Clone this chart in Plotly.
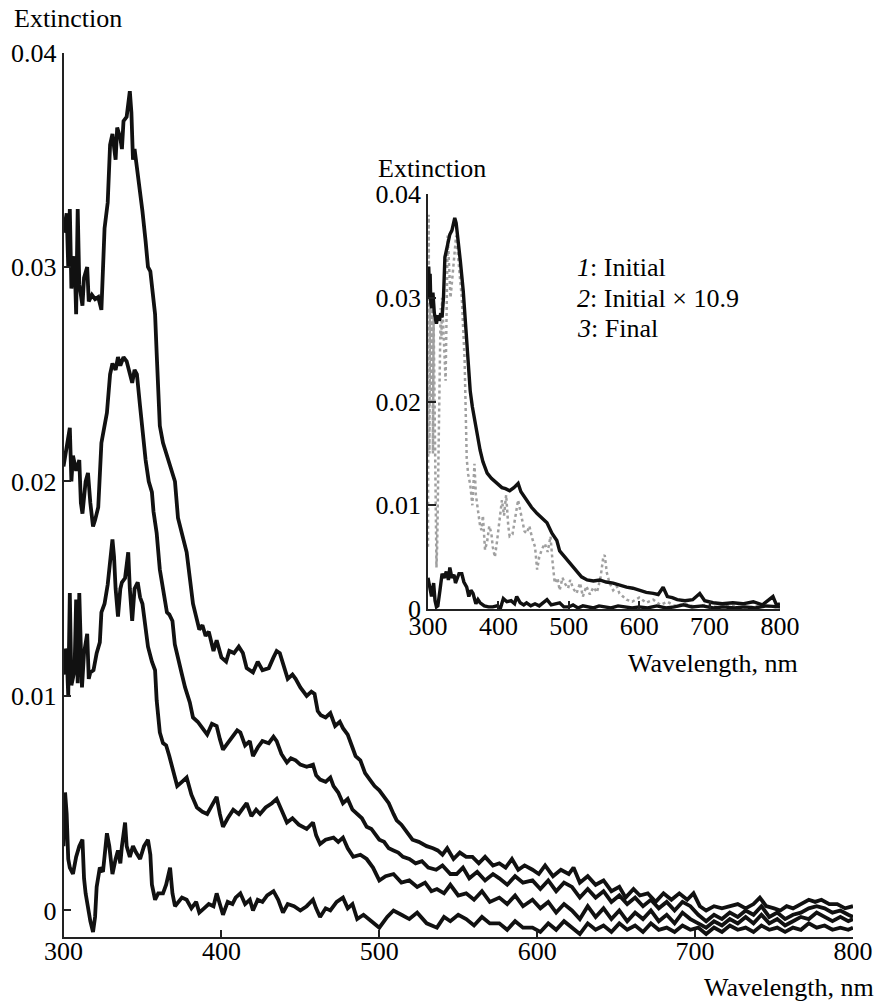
import plotly.graph_objects as go

# ---------------- main plot data ----------------
wl_a = [300,302,303,304,305,307,308,309,310,312,313,315,316,318,320,322,324,325,326,328,329.5,331,333,334,336,337,338,340,341,342,343,344,345,347,349,350,352,353.5,355,357,358,359,360,361,363,365.5,368,370.6,372.5,375,378,380,382,384,386,388,390,392,395,397,400,403,405,408,411,413.6,416,420,423,426,430,433,435,437,440,442,445,447,450,454,457,459,461,463,466,469,472,475,477,480,483,485,488,491,494,497,500,503,506,509,511,514,517,521,525,530,534,537,540,543,547,551,555,559,563,567,572,576,580,584,588,592,597,601,605,610,615,620,623,627,632,637,642,647,652,656,661,665,670,675,680,685,690,695,699,703,707,712,717,722,727,732,737,741,745,750,754,758,762,767,772,776,780,785,790,795,800]
ext_a = [0.0316,0.0325,0.0300,0.0327,0.0290,0.0305,0.0278,0.0327,0.0292,0.0282,0.0295,0.0300,0.0284,0.0287,0.0285,0.0286,0.0280,0.0295,0.0318,0.0330,0.0357,0.0362,0.0350,0.0365,0.0360,0.0355,0.0368,0.0370,0.0375,0.0382,0.0372,0.0350,0.0355,0.0344,0.0330,0.0326,0.0312,0.0300,0.0298,0.0282,0.0278,0.0260,0.0240,0.0226,0.0218,0.0212,0.0205,0.0200,0.0183,0.0175,0.0167,0.0155,0.0143,0.0137,0.0131,0.0133,0.0128,0.0130,0.0121,0.0126,0.0118,0.0116,0.0121,0.0120,0.0123,0.0120,0.0113,0.0111,0.0116,0.0112,0.0113,0.0118,0.0121,0.0120,0.0112,0.0108,0.0110,0.0108,0.0104,0.0100,0.0102,0.0101,0.0093,0.0091,0.0090,0.0092,0.0086,0.0088,0.0085,0.0082,0.0076,0.0072,0.0070,0.0064,0.0061,0.0058,0.0056,0.0053,0.0050,0.0045,0.0042,0.0040,0.0037,0.0033,0.0032,0.0030,0.0029,0.0028,0.0026,0.0029,0.0024,0.0027,0.0025,0.0025,0.0022,0.0025,0.0021,0.0022,0.0020,0.0024,0.0019,0.0021,0.0019,0.0017,0.0021,0.0016,0.0019,0.0017,0.0020,0.0013,0.0016,0.0012,0.0014,0.0009,0.0011,0.0006,0.0010,0.0007,0.0008,0.0004,0.0008,0.0005,0.0008,0.0005,0.0008,0.0002,0.0000,0.0002,0.0001,0.0002,0.0003,0.0001,0.0003,0.0006,0.0002,0.0001,0.0000,0.0002,0.0001,0.0003,0.0005,0.0004,0.0005,0.0003,0.0003,0.0001,0.0002]

wl_b = [300,302,304,305,306,308,310,311,312,314,315.5,317,318.7,320,322,324,326,327.5,329.5,331,333,334.5,336,338,340,342,343.5,345,346.5,348.5,350,352,354,356,357,359,361,363,365.5,367,369,370.5,372.5,375,377,380,382,385,388,391,394,397,399,401,404,407,410,412,415,418,420,423,426,430,433,435,438,441.5,444,447,450,454,458,460,462.5,466,469,471,474,477,480,483,486,489,492,495,498,500,503,506,509,512,515,519,523,527,531,536,540,545,549,553,557,562,567,572,576,581,586,591,597,602,607,612,617,622,627,632,637,642,647,652,657,662,667,672,677,682,687,692,697,702,707,712,717,722,727,732,737,742,747,752,757,762,767,772,777,782,787,792,797,800]
ext_b = [0.0207,0.0215,0.0225,0.0200,0.0212,0.0205,0.0210,0.0190,0.0185,0.0200,0.0204,0.0190,0.0179,0.0182,0.0188,0.0218,0.0226,0.0232,0.0250,0.0255,0.0252,0.0258,0.0254,0.0258,0.0256,0.0250,0.0246,0.0252,0.0250,0.0235,0.0224,0.0210,0.0200,0.0195,0.0186,0.0176,0.0159,0.0150,0.0139,0.0138,0.0135,0.0124,0.0117,0.0110,0.0104,0.0097,0.0090,0.0088,0.0085,0.0082,0.0087,0.0086,0.0080,0.0075,0.0078,0.0081,0.0084,0.0083,0.0077,0.0079,0.0072,0.0076,0.0079,0.0078,0.0081,0.0079,0.0073,0.0069,0.0071,0.0070,0.0068,0.0067,0.0068,0.0063,0.0061,0.0060,0.0062,0.0058,0.0055,0.0050,0.0052,0.0047,0.0045,0.0043,0.0039,0.0038,0.0035,0.0033,0.0032,0.0029,0.0028,0.0027,0.0025,0.0024,0.0022,0.0023,0.0020,0.0019,0.0021,0.0017,0.0017,0.0020,0.0015,0.0018,0.0014,0.0017,0.0015,0.0012,0.0016,0.0013,0.0014,0.0010,0.0014,0.0009,0.0013,0.0011,0.0006,0.0010,0.0006,0.0009,0.0004,0.0007,0.0003,0.0006,0.0002,0.0005,0.0001,0.0004,0.0000,0.0004,0.0002,-0.0002,-0.0005,-0.0002,-0.0004,-0.0001,-0.0003,0.0000,-0.0002,0.0002,-0.0003,-0.0001,-0.0004,-0.0002,-0.0001,0.0001,0.0002,0.0001,-0.0001,0.0000,-0.0002,-0.0003]

wl_c = [300,301,302,303,304,305,307,308,309,310,311.7,313,315,316,317,319,321,323,324,326,328,329.5,331,332,333,334.5,336,337,339,341,342,343.5,345,347,348.5,350,352,353.5,356,358,359,360,361,363,365,367,369,372,375,378,381,384.5,388,391,394,397,399,401,404,407.5,411,414,416,419,422,424.5,428,432,435,438,441.5,445,449,454,458,460,462.5,466,471,474,477,480,483.5,488,492,496,500,504,509,514,519,524,529,533,536.5,541,545,550,555,560,565,570,576,581,586,591,597,602,607,612,617,622,627,632,637,642,647,652,657,662,667,672,677,682,687,692,697,702,707,712,717,722,727,732,737,742,747,752,757,762,767,772,777,782,787,792,797,800]
ext_c = [0.0110,0.0122,0.0120,0.0100,0.0148,0.0105,0.0112,0.0145,0.0106,0.0148,0.0104,0.0120,0.0129,0.0108,0.0111,0.0112,0.0120,0.0125,0.0139,0.0143,0.0152,0.0163,0.0173,0.0165,0.0150,0.0137,0.0150,0.0153,0.0155,0.0167,0.0150,0.0135,0.0150,0.0153,0.0146,0.0143,0.0130,0.0123,0.0116,0.0112,0.0098,0.0089,0.0083,0.0078,0.0077,0.0072,0.0067,0.0058,0.0060,0.0062,0.0054,0.0048,0.0046,0.0045,0.0049,0.0053,0.0045,0.0039,0.0043,0.0047,0.0045,0.0048,0.0050,0.0044,0.0047,0.0045,0.0048,0.0050,0.0052,0.0047,0.0041,0.0043,0.0040,0.0038,0.0041,0.0035,0.0031,0.0033,0.0034,0.0032,0.0034,0.0029,0.0025,0.0026,0.0024,0.0020,0.0014,0.0016,0.0017,0.0013,0.0014,0.0011,0.0013,0.0009,0.0010,0.0008,0.0012,0.0007,0.0008,0.0005,0.0009,0.0004,0.0006,0.0003,0.0007,0.0002,0.0005,0.0001,0.0004,-0.0001,0.0003,0.0000,-0.0004,0.0002,-0.0003,0.0001,-0.0004,0.0000,-0.0005,-0.0001,-0.0004,0.0000,-0.0005,-0.0002,-0.0006,-0.0001,-0.0004,-0.0006,-0.0008,-0.0005,-0.0007,-0.0004,-0.0006,-0.0003,-0.0006,-0.0002,-0.0006,-0.0004,-0.0007,-0.0005,-0.0003,-0.0004,-0.0001,-0.0003,-0.0005,-0.0003,-0.0005,-0.0004]

wl_d = [300,301,302,303,304,306,308,310,312,313,314,315.5,317,318.7,320,321,323,325,327.5,329,331,333,334.5,336,337,339,340,342,344,346,348.5,351,353.5,355,356,358,360,363,365,367.5,369,370.6,373,375,378,381,384,386,389,392,395,397,399,401,404,407,409,412,415,418,420,423,426,429,433,436,439,442,446,450,454,458,460,462.5,466,469,473,477,480,483,486,490,495,500,505,509,514,519,524,530,536.5,541,545,550,555,560,565,570,576,581,586,591,597,602,607,612,617,622,627,632,637,642,647,652,657,662,667,672,677,682,687,692,697,702,707,712,717,722,727,732,737,742,747,752,757,762,767,772,777,782,787,792,797,800]
ext_d = [0.0030,0.0055,0.0045,0.0024,0.0020,0.0017,0.0025,0.0030,0.0033,0.0015,0.0008,0.0000,-0.0005,-0.0010,-0.0003,0.0011,0.0020,0.0018,0.0036,0.0030,0.0017,0.0024,0.0028,0.0022,0.0030,0.0041,0.0030,0.0025,0.0030,0.0027,0.0024,0.0030,0.0033,0.0026,0.0012,0.0005,0.0008,0.0008,0.0012,0.0020,0.0008,0.0002,0.0004,0.0006,0.0005,0.0001,0.0004,-0.0001,0.0001,0.0003,0.0002,0.0008,0.0003,-0.0002,0.0004,0.0003,0.0006,0.0008,0.0003,0.0005,0.0000,0.0005,0.0004,0.0007,0.0009,0.0005,-0.0001,0.0003,0.0002,0.0000,0.0002,0.0005,0.0001,-0.0003,0.0001,0.0000,0.0004,0.0006,0.0001,0.0003,-0.0004,-0.0002,-0.0005,-0.0008,-0.0003,0.0000,-0.0002,-0.0004,-0.0001,-0.0006,-0.0008,-0.0003,-0.0005,-0.0002,-0.0004,-0.0007,-0.0003,-0.0006,-0.0006,-0.0009,-0.0005,-0.0008,-0.0008,-0.0010,-0.0006,-0.0009,-0.0005,-0.0008,-0.0011,-0.0006,-0.0009,-0.0007,-0.0010,-0.0006,-0.0009,-0.0007,-0.0010,-0.0006,-0.0009,-0.0008,-0.0010,-0.0007,-0.0009,-0.0008,-0.0011,-0.0008,-0.0010,-0.0007,-0.0009,-0.0008,-0.0010,-0.0007,-0.0009,-0.0008,-0.0010,-0.0008,-0.0009,-0.0006,-0.0008,-0.0007,-0.0009,-0.0008,-0.0009,-0.0008]

# ---------------- inset data ----------------
wl_final = [300,301,302,303,304,305.5,307,309,312,314,316,318,320,322,324,327,331,334,336,338,340,343,346,350,355,360,363,367,370,374,378,384,390,398,405,410,416,422,428,432,440,447,455,462,469,476,483,487,492,497,502,506,512,518,526,535,544,553,563,572,582,591,601,610,620,627,634,640,647,654,665,676,686,693,705,718,733,747,762,775,790,795,800]
ext_final = [0.0300,0.0330,0.0310,0.0323,0.0295,0.0290,0.0305,0.0285,0.0275,0.0283,0.0278,0.0285,0.0281,0.0300,0.0339,0.0350,0.0361,0.0365,0.0370,0.0377,0.0372,0.0355,0.0335,0.0307,0.0259,0.0210,0.0195,0.0179,0.0165,0.0153,0.0142,0.0131,0.0126,0.0121,0.0117,0.0116,0.0114,0.0117,0.0121,0.0113,0.0105,0.0098,0.0092,0.0088,0.0083,0.0073,0.0066,0.0056,0.0052,0.0048,0.0043,0.0040,0.0035,0.0031,0.0028,0.0027,0.0028,0.0026,0.0025,0.0023,0.0021,0.0020,0.0018,0.0016,0.0015,0.0014,0.0021,0.0012,0.0011,0.0009,0.0008,0.0009,0.0015,0.0008,0.0006,0.0005,0.0006,0.0005,0.0007,0.0004,0.0012,0.0004,0.0005]

wl_init = [300,302,305,308,310,312,314,317,320,323,326,329,331,334,337,339,341,344,348,351,355,358,361,364,368,371,374,380,386,392,398,403,407,412,418,423,426,431,436,440,446,452,458,463,469,475,481,487,493,500,506,513,520,527,535,543,551,560,570,580,590,600,612,625,638,650,663,675,690,705,720,735,750,765,780,800]
ext_init = [0.0030,0.0022,0.0012,0.0025,0.0008,0.0002,0.0003,0.0018,0.0034,0.0030,0.0036,0.0028,0.0040,0.0030,0.0033,0.0025,0.0028,0.0034,0.0034,0.0026,0.0021,0.0012,0.0018,0.0015,0.0005,0.0009,0.0006,0.0003,0.0002,0.0002,0.0003,0.0001,0.0010,0.0007,0.0008,0.0005,0.0012,0.0006,0.0004,0.0006,0.0003,0.0005,0.0003,0.0006,0.0009,0.0004,0.0005,0.0006,0.0002,0.0002,0.0004,0.0001,0.0003,0.0002,0.0001,0.0003,0.0002,0.0001,0.0003,0.0002,0.0001,0.0002,0.0001,0.0003,0.0001,0.0002,0.0004,0.0002,0.0003,0.0001,0.0002,0.0001,0.0002,0.0001,0.0003,0.0002]

wl_x109 = [300,301,302,303,304,305,306,307,308,309,310,311,312,313,314,315,316,317,318,319,320,325,328,332,336,340,344,348,352,355,357,360,363,366,368,371,374,376,378,381,384,387,390,392,395,398,402,405,408,411,414,416,420,424,428,431,434,437,440,444,448,452,455,458,462,466,470,474,477,480,484,487,491,495,499,502,506,511,516,520,525,530,535,540,545,549,551,554,558,563,568,572,577,582,590,600,610,620,630,640,650,665,680,695,710,730,750,770,790,800]
ext_x109 = [0.0060,0.0380,0.0150,0.0320,0.0270,0.0200,0.0290,0.0150,0.0280,0.0220,0.0120,0.0070,0.0040,0.0060,0.0100,0.0160,0.0200,0.0250,0.0290,0.0260,0.0300,0.0220,0.0360,0.0300,0.0330,0.0360,0.0330,0.0300,0.0240,0.0145,0.0130,0.0120,0.0100,0.0140,0.0110,0.0095,0.0080,0.0076,0.0090,0.0057,0.0065,0.0080,0.0073,0.0060,0.0050,0.0065,0.0085,0.0105,0.0090,0.0110,0.0080,0.0070,0.0072,0.0090,0.0105,0.0095,0.0085,0.0075,0.0073,0.0080,0.0068,0.0060,0.0038,0.0050,0.0058,0.0063,0.0055,0.0070,0.0045,0.0025,0.0030,0.0018,0.0030,0.0024,0.0020,0.0028,0.0020,0.0015,0.0025,0.0012,0.0022,0.0014,0.0021,0.0016,0.0030,0.0050,0.0052,0.0035,0.0025,0.0018,0.0022,0.0015,0.0012,0.0009,0.0007,0.0011,0.0006,0.0009,0.0004,0.0007,0.0003,0.0005,0.0002,0.0004,0.0002,0.0003,0.0001,0.0003,0.0002,0.0001]

main_xticks = [300, 400, 500, 600, 700, 800]
main_yticks = [0, 0.01, 0.02, 0.03, 0.04]
main_ytext = ["0", "0.01", "0.02", "0.03", "0.04"]
legend_lines = ["<i>1</i>: Initial", "<i>2</i>: Initial × 10.9", "<i>3</i>: Final"]

FONT = "Liberation Serif, Times New Roman, Tinos, serif"
FS = 26
INK = "#111111"

fig = go.Figure()
for wl, ext in [(wl_a, ext_a), (wl_b, ext_b), (wl_c, ext_c), (wl_d, ext_d)]:
    fig.add_trace(go.Scatter(x=wl, y=ext, mode="lines", xaxis="x", yaxis="y",
                             line=dict(color=INK, width=3.8), showlegend=False))

fig.add_trace(go.Scatter(x=wl_x109, y=ext_x109, mode="lines", xaxis="x2", yaxis="y2",
                         line=dict(color="#a0a0a0", width=2.5, dash="dot"), showlegend=False))
fig.add_trace(go.Scatter(x=wl_init, y=ext_init, mode="lines", xaxis="x2", yaxis="y2",
                         line=dict(color=INK, width=3.4), showlegend=False))
fig.add_trace(go.Scatter(x=wl_final, y=ext_final, mode="lines", xaxis="x2", yaxis="y2",
                         line=dict(color=INK, width=3.4), showlegend=False))

tickfont = dict(family=FONT, size=FS, color="black")
axis_common = dict(showgrid=False, zeroline=False, showline=True, linecolor="#222222",
                   linewidth=1.5, ticks="inside", ticklen=8, tickwidth=1.5, tickcolor="#222222",
                   automargin=False, tickfont=tickfont)

fig.update_layout(
    template="none",
    width=877, height=1002,
    margin=dict(l=0, r=0, t=0, b=0, pad=0),
    paper_bgcolor="white", plot_bgcolor="rgba(0,0,0,0)",
    font=dict(family=FONT, size=FS, color="black"),
    xaxis=dict(domain=[63.5/877, 853/877], range=[300, 800], anchor="y",
               tickvals=main_xticks, ticklabelstandoff=-10, **axis_common),
    yaxis=dict(domain=[1-937.3/1002, 1-52.5/1002], range=[-0.00125, 0.04], anchor="x",
               tickvals=main_yticks, ticktext=main_ytext, **axis_common),
    xaxis2=dict(domain=[428/877, 780/877], range=[300, 800], anchor="y2",
                tickvals=main_xticks, ticklabelstandoff=-7, **axis_common),
    yaxis2=dict(domain=[1-609/1002, 1-194/1002], range=[0, 0.04], anchor="x2",
                tickvals=main_yticks, ticktext=main_ytext, **axis_common),
)

def txt(s, x, y, xanchor="left"):
    fig.add_annotation(text=s, x=x/877, y=1-y/1002, xref="paper", yref="paper",
                       xanchor=xanchor, yanchor="middle", showarrow=False,
                       font=dict(family=FONT, size=FS, color="black"))

txt("Extinction", 12, 18)
txt("Wavelength, nm", 876, 987, "right")
txt("Extinction", 376, 168)
txt("Wavelength, nm", 800, 663, "right")
for i, s in enumerate(legend_lines):
    txt(s, 575, 268 + i*30)

fig.write_html("out.html")
